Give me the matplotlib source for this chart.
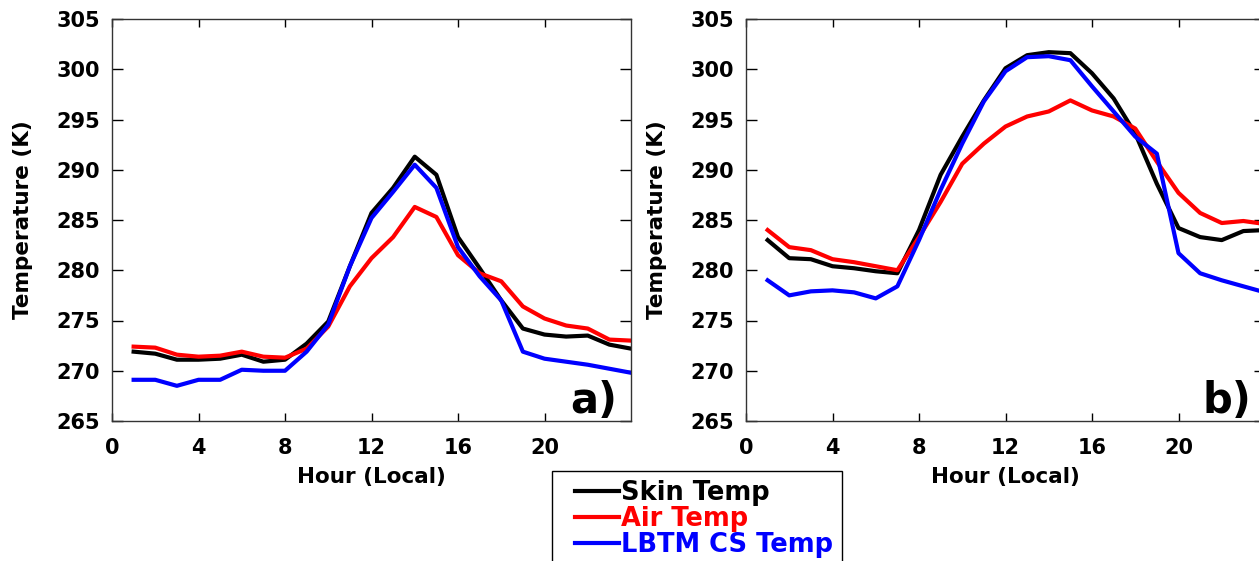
import matplotlib
matplotlib.use("Agg")
import matplotlib.pyplot as plt
from matplotlib.legend_handler import HandlerLine2D
import numpy as np

hours = np.arange(1, 25)

# panel a)
skin_a = [271.9, 271.7, 271.1, 271.1, 271.2, 271.6, 270.9, 271.1, 272.7, 274.9, 280.4, 285.7,
          288.2, 291.3, 289.5, 283.3, 280.2, 277.0, 274.2, 273.6, 273.4, 273.5, 272.6, 272.2]
air_a = [272.4, 272.3, 271.6, 271.4, 271.5, 271.9, 271.4, 271.3, 272.2, 274.4, 278.4, 281.2,
         283.3, 286.3, 285.3, 281.5, 279.7, 278.9, 276.4, 275.2, 274.5, 274.2, 273.1, 273.0]
lbtm_a = [269.1, 269.1, 268.5, 269.1, 269.1, 270.1, 270.0, 270.0, 271.9, 274.6, 280.4, 285.2,
          287.8, 290.5, 288.2, 282.3, 279.4, 277.0, 271.9, 271.2, 270.9, 270.6, 270.2, 269.8]

# panel b)
skin_b = [283.0, 281.2, 281.1, 280.4, 280.2, 279.9, 279.7, 284.0, 289.5, 293.3, 296.9, 300.1,
          301.4, 301.7, 301.6, 299.6, 297.1, 293.6, 288.6, 284.2, 283.3, 283.0, 283.9, 284.0]
air_b = [284.0, 282.3, 282.0, 281.1, 280.8, 280.4, 280.0, 283.3, 286.8, 290.6, 292.6, 294.3,
         295.3, 295.8, 296.9, 295.9, 295.3, 294.1, 290.8, 287.7, 285.7, 284.7, 284.9, 284.6]
lbtm_b = [279.0, 277.5, 277.9, 278.0, 277.8, 277.2, 278.4, 283.0, 288.0, 292.6, 296.8, 299.8,
          301.2, 301.3, 300.9, 298.3, 295.8, 293.3, 291.6, 281.7, 279.7, 279.0, 278.4, 277.8]

series_names = ["Skin Temp", "Air Temp", "LBTM CS Temp"]
series_colors = ["black", "red", "blue"]
panel_tags = ["a)", "b)"]
xticks = [0, 4, 8, 12, 16, 20]
yticks = np.arange(265, 306, 5)

plt.rcParams["font.family"] = "DejaVu Sans"
plt.rcParams["font.weight"] = "bold"

fig = plt.figure(figsize=(12.59, 5.61), dpi=100)
W, H = 1259.0, 561.0
ax_a = fig.add_axes([112 / W, 1 - 421 / H, 519 / W, 402 / H])
ax_b = fig.add_axes([746 / W, 1 - 421 / H, 519 / W, 402 / H])

panels = [(ax_a, [skin_a, air_a, lbtm_a]), (ax_b, [skin_b, air_b, lbtm_b])]
handles = []
for i, (ax, data) in enumerate(panels):
    lines = []
    for vals, name, col in zip(data, series_names, series_colors):
        ln, = ax.plot(hours, vals, color=col, lw=3, label=name)
        lines.append(ln)
    if i == 0:
        handles = lines
    ax.set_xlim(0, 24)
    ax.set_ylim(265, 305)
    ax.set_xticks(xticks)
    ax.set_yticks(yticks)
    ax.tick_params(direction="in", top=True, right=True, length=8, width=1,
                   labelsize=15, colors="black")
    ax.tick_params(axis="x", which="both", top=True, length=6)
    ax.tick_params(axis="y", pad=8.5)
    ax.tick_params(axis="x", pad=12.5)
    for lab in ax.get_xticklabels() + ax.get_yticklabels():
        lab.set_fontweight("bold")
    for sp in ax.spines.values():
        sp.set_linewidth(1.0)
        sp.set_color("#333333")
    ax.set_xlabel("Hour (Local)", fontsize=15.5, fontweight="bold", labelpad=6)
    ax.set_ylabel("Temperature (K)", fontsize=15.5, fontweight="bold", labelpad=17)
    ax.text(0.973, 0.02, panel_tags[i], transform=ax.transAxes, ha="right", va="baseline",
            fontsize=30, fontweight="bold")

leg = fig.legend(handles=handles, loc="upper left", bbox_to_anchor=(552 / W, 1 - 471 / H),
                 borderaxespad=0, fontsize=18.5, handlelength=2.25, handletextpad=0.1,
                 labelspacing=0.0, borderpad=0.35, labelcolor="linecolor",
                 fancybox=False, framealpha=1,
                 handler_map={h: HandlerLine2D(xpad=0.55) for h in handles})
leg.get_frame().set_edgecolor("black")
leg.get_frame().set_linewidth(1.0)
for t in leg.get_texts():
    t.set_fontweight("bold")

fig.savefig("out.png", dpi=100)
